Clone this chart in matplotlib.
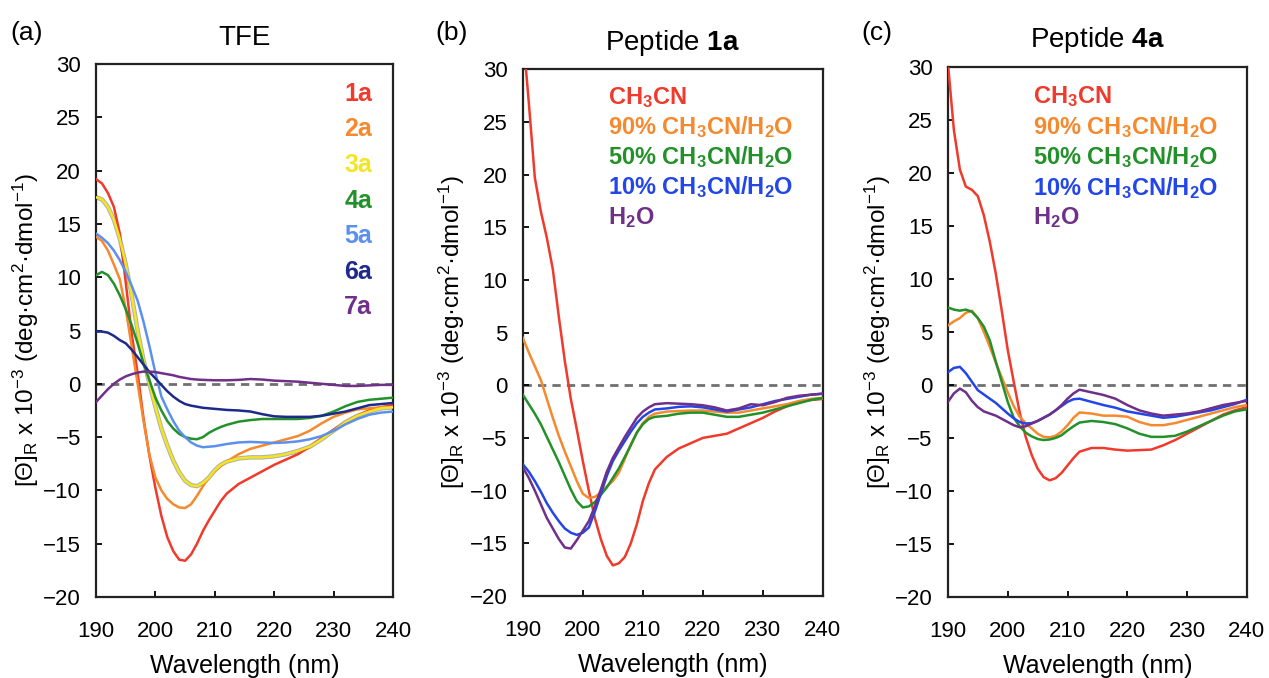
import matplotlib
matplotlib.use('Agg')
import matplotlib.pyplot as plt

plt.rcParams['font.family'] = ['Liberation Sans', 'DejaVu Sans']
plt.rcParams['mathtext.fontset'] = 'custom'
plt.rcParams['mathtext.rm'] = 'Liberation Sans'
plt.rcParams['mathtext.bf'] = 'Liberation Sans:bold'
plt.rcParams['mathtext.it'] = 'Liberation Sans:italic'

# wavelength grid (nm)
wl = list(range(190, 212)) + list(range(212, 241, 2))

# (a) TFE
tfe_1a = [19.2, 18.8, 17.9, 16.6, 14.1, 9.5, 4.7, 1.0, -3.3, -6.8, -9.8, -12.4, -14.4, -15.7, -16.5, -16.6, -16.0, -15.0, -13.8, -12.8, -11.9, -11.0,
          -10.3, -9.4, -8.8, -8.2, -7.6, -7.1, -6.6, -5.9, -5.1, -4.3, -3.6, -3.0, -2.5, -2.2, -2.0]
tfe_2a = [13.8, 13.4, 12.5, 11.2, 9.8, 7.0, 3.5, 0.0, -3.5, -6.7, -8.8, -10.0, -10.8, -11.3, -11.6, -11.65, -11.3, -10.5, -9.6, -8.8, -8.2, -7.7,
          -7.3, -6.6, -6.1, -5.8, -5.5, -5.2, -4.9, -4.4, -3.7, -3.1, -2.7, -2.4, -2.3, -2.2, -2.2]
tfe_3a = [17.5, 17.3, 16.6, 15.4, 13.6, 11.2, 8.3, 5.0, 2.2, 0.0, -2.2, -4.2, -5.8, -7.2, -8.3, -9.1, -9.5, -9.6, -9.3, -8.8, -8.1, -7.6,
          -7.3, -7.0, -6.9, -6.9, -6.8, -6.6, -6.3, -5.9, -5.2, -4.4, -3.6, -3.0, -2.6, -2.3, -2.2]
tfe_4a = [10.2, 10.5, 10.2, 9.4, 8.3, 7.0, 5.5, 3.8, 1.9, 0.3, -1.3, -2.5, -3.5, -4.2, -4.7, -5.0, -5.15, -5.2, -5.0, -4.6, -4.3, -4.05,
          -3.85, -3.55, -3.4, -3.3, -3.3, -3.3, -3.3, -3.2, -3.0, -2.6, -2.1, -1.7, -1.5, -1.4, -1.3]
tfe_5a = [14.1, 13.7, 13.2, 12.5, 11.6, 10.5, 9.2, 7.8, 5.8, 3.5, 1.0, -1.2, -2.4, -3.5, -4.4, -5.0, -5.5, -5.8, -5.95, -5.9, -5.85, -5.75,
          -5.65, -5.5, -5.45, -5.5, -5.55, -5.5, -5.4, -5.2, -4.9, -4.4, -3.8, -3.3, -2.9, -2.7, -2.6]
tfe_6a = [4.9, 4.9, 4.8, 4.5, 4.1, 3.8, 3.2, 2.5, 1.8, 1.1, 0.5, -0.1, -0.7, -1.2, -1.6, -1.9, -2.05, -2.15, -2.25, -2.3, -2.35, -2.4,
          -2.45, -2.5, -2.6, -2.85, -3.05, -3.1, -3.1, -3.1, -3.0, -2.8, -2.6, -2.3, -2.0, -1.9, -1.8]
tfe_7a = [-1.7, -1.1, -0.5, 0.0, 0.4, 0.7, 0.9, 1.05, 1.15, 1.15, 1.1, 1.0, 0.9, 0.8, 0.65, 0.55, 0.45, 0.4, 0.37, 0.35, 0.33, 0.33,
          0.33, 0.37, 0.45, 0.4, 0.3, 0.25, 0.2, 0.1, 0.0, -0.1, -0.2, -0.2, -0.15, -0.1, -0.1]

# (b) peptide 1a in CH3CN / water
p1_acn = [33.5, 26.8, 19.7, 16.5, 14.0, 11.0, 6.5, 2.3, -1.3, -4.2, -7.2, -10.0, -12.6, -14.6, -16.2, -17.1, -16.9, -16.3, -15.0, -13.2, -11.0, -9.3,
          -8.0, -6.8, -6.0, -5.5, -5.0, -4.8, -4.6, -4.1, -3.6, -3.1, -2.5, -2.0, -1.6, -1.4, -1.3]
p1_90 = [4.5, 3.1, 1.8, 0.5, -1.3, -3.1, -4.8, -6.3, -7.7, -9.1, -10.3, -10.7, -10.6, -10.2, -9.6, -9.1, -8.3, -7.0, -5.6, -4.5, -3.6, -3.0,
         -2.7, -2.5, -2.45, -2.4, -2.4, -2.5, -2.6, -2.6, -2.4, -2.2, -2.0, -1.8, -1.5, -1.3, -1.2]
p1_50 = [-0.9, -1.8, -2.7, -3.7, -4.9, -6.1, -7.3, -8.6, -9.9, -11.0, -11.6, -11.5, -11.1, -10.4, -9.7, -8.8, -7.9, -6.8, -5.7, -4.5, -3.7, -3.2,
         -3.0, -2.9, -2.7, -2.6, -2.6, -2.8, -3.0, -3.0, -2.8, -2.6, -2.3, -2.0, -1.7, -1.4, -1.2]
p1_10 = [-7.5, -8.2, -9.1, -10.1, -11.2, -12.1, -12.9, -13.6, -14.0, -14.2, -14.0, -13.5, -12.0, -10.3, -8.6, -7.2, -6.2, -5.3, -4.4, -3.6, -3.0, -2.6,
         -2.3, -2.2, -2.05, -2.0, -2.1, -2.3, -2.5, -2.3, -2.1, -1.8, -1.5, -1.3, -1.1, -0.9, -0.8]
p1_h2o = [-7.8, -8.8, -10.0, -11.3, -12.6, -13.6, -14.6, -15.4, -15.5, -14.7, -13.8, -12.9, -11.5, -9.9, -8.2, -6.9, -5.9, -4.9, -4.0, -3.1, -2.5, -2.1,
          -1.8, -1.7, -1.75, -1.8, -1.9, -2.1, -2.4, -2.2, -1.8, -1.9, -1.6, -1.2, -1.0, -0.9, -0.8]

# (c) peptide 4a in CH3CN / water
p4_acn = [30.3, 24.0, 20.3, 18.7, 18.4, 17.8, 16.0, 13.5, 10.5, 7.0, 3.3, 0.3, -2.6, -4.9, -6.6, -7.9, -8.7, -9.0, -8.8, -8.3, -7.6, -6.9,
          -6.3, -5.95, -5.95, -6.1, -6.2, -6.15, -6.1, -5.7, -5.2, -4.6, -4.0, -3.4, -2.8, -2.4, -2.1]
p4_90 = [5.6, 6.0, 6.3, 6.8, 7.0, 6.3, 5.0, 3.6, 2.1, 0.7, -0.7, -2.0, -3.0, -3.6, -4.1, -4.6, -4.9, -4.95, -4.8, -4.4, -3.8, -3.1,
         -2.6, -2.7, -2.9, -2.9, -3.0, -3.5, -3.8, -3.8, -3.6, -3.3, -3.0, -2.7, -2.4, -2.1, -1.9]
p4_50 = [7.3, 7.1, 7.0, 7.1, 6.9, 6.3, 5.5, 4.2, 2.2, 0.3, -1.6, -3.1, -3.9, -4.5, -4.85, -5.1, -5.2, -5.15, -5.0, -4.75, -4.3, -3.9,
         -3.55, -3.4, -3.5, -3.7, -4.1, -4.6, -4.9, -4.9, -4.8, -4.4, -3.9, -3.4, -2.9, -2.5, -2.3]
p4_10 = [1.2, 1.6, 1.7, 1.1, 0.3, -0.5, -0.9, -1.3, -1.7, -2.2, -2.7, -3.15, -3.5, -3.65, -3.6, -3.4, -3.1, -2.8, -2.4, -2.0, -1.6, -1.35,
         -1.3, -1.6, -1.9, -2.15, -2.5, -2.7, -2.9, -3.1, -3.0, -2.8, -2.6, -2.4, -2.1, -1.8, -1.4]
p4_h2o = [-1.6, -0.8, -0.35, -0.7, -1.5, -2.1, -2.5, -2.7, -2.9, -3.2, -3.5, -3.8, -4.0, -3.9, -3.65, -3.4, -3.1, -2.8, -2.4, -1.9, -1.3, -0.8,
          -0.45, -0.7, -0.95, -1.3, -1.9, -2.4, -2.7, -2.9, -2.8, -2.7, -2.5, -2.2, -1.9, -1.7, -1.5]

tfe_labels = ['1a', '2a', '3a', '4a', '5a', '6a', '7a']
tfe_colors = ['#ef3a2c', '#f5892e', '#f2e622', '#23912a', '#5c90ee', '#1d2a8a', '#70308a']
solv_labels = [r'CH$_\mathbf{3}$CN',
               r'90% CH$_\mathbf{3}$CN/H$_\mathbf{2}$O',
               r'50% CH$_\mathbf{3}$CN/H$_\mathbf{2}$O',
               r'10% CH$_\mathbf{3}$CN/H$_\mathbf{2}$O',
               r'H$_\mathbf{2}$O']
solv_colors = ['#ef3a2c', '#f5892e', '#23912a', '#2246e8', '#70308a']

ylab = r'[Θ]$_\mathregular{R}$ x 10$^\mathregular{-3}$ (deg·cm$^\mathregular{2}$·dmol$^\mathregular{-1}$)'

fig = plt.figure(figsize=(12.69, 6.78), dpi=100)
ax_a = fig.add_axes([0.0757, 0.1195, 0.234, 0.786])
ax_b = fig.add_axes([0.412, 0.121, 0.2364, 0.777])
ax_c = fig.add_axes([0.747, 0.1195, 0.2356, 0.782])


def style(ax, letter, title, ly):
    ax.set_xlim(190, 240)
    ax.set_ylim(-20, 30)
    ax.set_xticks(range(190, 241, 10))
    ax.set_yticks(range(-20, 31, 5))
    ax.tick_params(direction='in', length=4, width=1.3, labelsize=16,
                   top=False, right=False)
    ax.tick_params(axis='x', pad=17)
    ax.tick_params(axis='y', pad=11)
    for s in ax.spines.values():
        s.set_linewidth(1.6)
        s.set_color('#222222')
    ax.axhline(0, color='#707070', lw=2.0, dashes=(3.0, 2.2), zorder=1)
    ax.set_xlabel('Wavelength (nm)', fontsize=18, labelpad=9)
    ax.set_ylabel(ylab, fontsize=17.5)
    ax.yaxis.set_label_coords(-0.185, 0.5)
    ax.set_title(title, fontsize=20, pad=14)
    ax.text(-0.29, ly, letter, transform=ax.transAxes, fontsize=19,
            ha='left', va='center')


# (a)
for i, (y, lab, c) in enumerate(zip([tfe_1a, tfe_2a, tfe_3a, tfe_4a, tfe_5a, tfe_6a, tfe_7a],
                                    tfe_labels, tfe_colors)):
    if lab == '3a':
        ax_a.plot(wl, y, color='#b0b0b0', lw=3.2, zorder=2)
    ax_a.plot(wl, y, color=c, lw=1.8, zorder=3)
    ax_a.text(0.93, 0.944 - i * 0.0667, lab, transform=ax_a.transAxes, color=c,
              fontsize=18, fontweight='bold', ha='right', va='center')
style(ax_a, '(a)', 'TFE', 1.058)

# (b)
for i, (y, lab, c) in enumerate(zip([p1_acn, p1_90, p1_50, p1_10, p1_h2o], solv_labels, solv_colors)):
    ax_b.plot(wl, y, color=c, lw=1.8, zorder=3)
    ax_b.text(0.283, 0.947 - i * 0.057, lab, transform=ax_b.transAxes, color=c,
              fontsize=17, fontweight='bold', ha='left', va='center')
style(ax_b, '(b)', r'Peptide $\mathbf{1a}$', 1.068)

# (c)
for i, (y, lab, c) in enumerate(zip([p4_acn, p4_90, p4_50, p4_10, p4_h2o], solv_labels, solv_colors)):
    ax_c.plot(wl, y, color=c, lw=1.8, zorder=3)
    ax_c.text(0.284, 0.943 - i * 0.057, lab, transform=ax_c.transAxes, color=c,
              fontsize=17, fontweight='bold', ha='left', va='center')
style(ax_c, '(c)', r'Peptide $\mathbf{4a}$', 1.064)

fig.savefig('out.png', dpi=100)
